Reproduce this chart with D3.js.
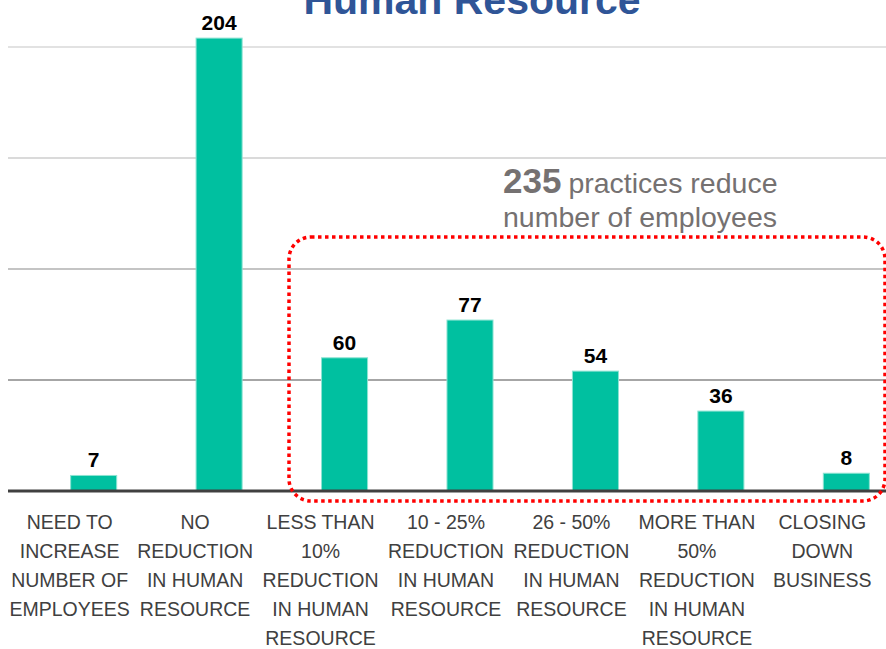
<!DOCTYPE html>
<html>
<head>
<meta charset="utf-8">
<script src="https://cdn.jsdelivr.net/npm/d3@7"></script>
<style>
  body { margin: 0; background: #fff; }
  svg { display: block; }
</style>
</head>
<body>
<svg id="chart" width="886" height="649"></svg>
<script>
// data
const categories = [
    ["NEED TO", "INCREASE", "NUMBER OF", "EMPLOYEES"],
    ["NO", "REDUCTION", "IN HUMAN", "RESOURCE"],
    ["LESS THAN", "10%", "REDUCTION", "IN HUMAN", "RESOURCE"],
    ["10 - 25%", "REDUCTION", "IN HUMAN", "RESOURCE"],
    ["26 - 50%", "REDUCTION", "IN HUMAN", "RESOURCE"],
    ["MORE THAN", "50%", "REDUCTION", "IN HUMAN", "RESOURCE"],
    ["CLOSING", "DOWN", "BUSINESS"]
]
const values = [7, 204, 60, 77, 54, 36, 8]
const gridTicks = [50, 100, 150, 200]
const gridColors = ["#a6a6a6", "#c4c4c4", "#dadada", "#e2e2e2"]
const title = "Human Resource"
const noteCount = "235"
const noteLines = ["practices reduce", "number of employees"]

const svg = d3.select("#chart")
const font = "'Liberation Sans', Arial, sans-serif"

// scales
const x = d3.scaleBand()
    .domain(d3.range(values.length))
    .range([31, 909])
    .paddingInner(0.633)
    .paddingOuter(0.316)
const y = d3.scaleLinear().domain([0, 200]).range([491, 47])

// labels sit a bit left of their bars in the original
const labelShift = -24

// gridlines
svg.append("g").selectAll("line")
    .data(gridTicks)
    .join("line")
    .attr("x1", 8).attr("x2", 886)
    .attr("y1", d => y(d)).attr("y2", d => y(d))
    .attr("stroke", (d, i) => gridColors[i])
    .attr("stroke-width", 2)

// title (cut off by top edge like the original)
svg.append("text")
    .attr("x", 472).attr("y", 14)
    .attr("text-anchor", "middle")
    .attr("font-family", font)
    .attr("font-weight", "bold")
    .attr("font-size", 41)
    .attr("fill", "#2f5597")
    .text(title)

// bars
svg.append("g").selectAll("rect")
    .data(values)
    .join("rect")
    .attr("x", (d, i) => x(i))
    .attr("width", x.bandwidth())
    .attr("y", d => y(d))
    .attr("height", d => y(0) - y(d))
    .attr("fill", "#00c0a0")
    .attr("stroke", "#8ce3d2")
    .attr("stroke-width", 1)

// baseline
svg.append("line")
    .attr("x1", 8).attr("x2", 886)
    .attr("y1", y(0)).attr("y2", y(0))
    .attr("stroke", "#404040")
    .attr("stroke-width", 3)

// value labels
svg.append("g").selectAll("text")
    .data(values)
    .join("text")
    .attr("x", (d, i) => x(i) + x.bandwidth() / 2)
    .attr("y", d => y(d) - 8)
    .attr("text-anchor", "middle")
    .attr("font-family", font)
    .attr("font-weight", "bold")
    .attr("font-size", 21)
    .attr("fill", "#000")
    .text(d => d)

// category labels
const cat = svg.append("g").selectAll("text")
    .data(categories)
    .join("text")
    .attr("text-anchor", "middle")
    .attr("font-family", font)
    .attr("font-size", 19.5)
    .attr("fill", "#404040")
cat.selectAll("tspan")
    .data((d, i) => d.map(s => [s, i]))
    .join("tspan")
    .attr("x", d => x(d[1]) + x.bandwidth() / 2 + labelShift)
    .attr("y", (d, j) => 529 + j * 29)
    .text(d => d[0])

// dotted highlight box
svg.append("rect")
    .attr("x", 289).attr("y", 237)
    .attr("width", 596).attr("height", 264)
    .attr("rx", 22).attr("ry", 22)
    .attr("fill", "none")
    .attr("stroke", "#ff0000")
    .attr("stroke-width", 3.5)
    .attr("stroke-dasharray", "3.5 3.5")

// annotation
const note = svg.append("text")
    .attr("font-family", font)
    .attr("fill", "#757171")
note.append("tspan")
    .attr("x", 503).attr("y", 193)
    .attr("font-size", 35)
    .attr("font-weight", "bold")
    .text(noteCount)
note.append("tspan")
    .attr("dx", 7)
    .attr("font-size", 28.5)
    .text(noteLines[0])
note.append("tspan")
    .attr("x", 503).attr("y", 227)
    .attr("font-size", 28.5)
    .text(noteLines[1])
</script>
</body>
</html>
